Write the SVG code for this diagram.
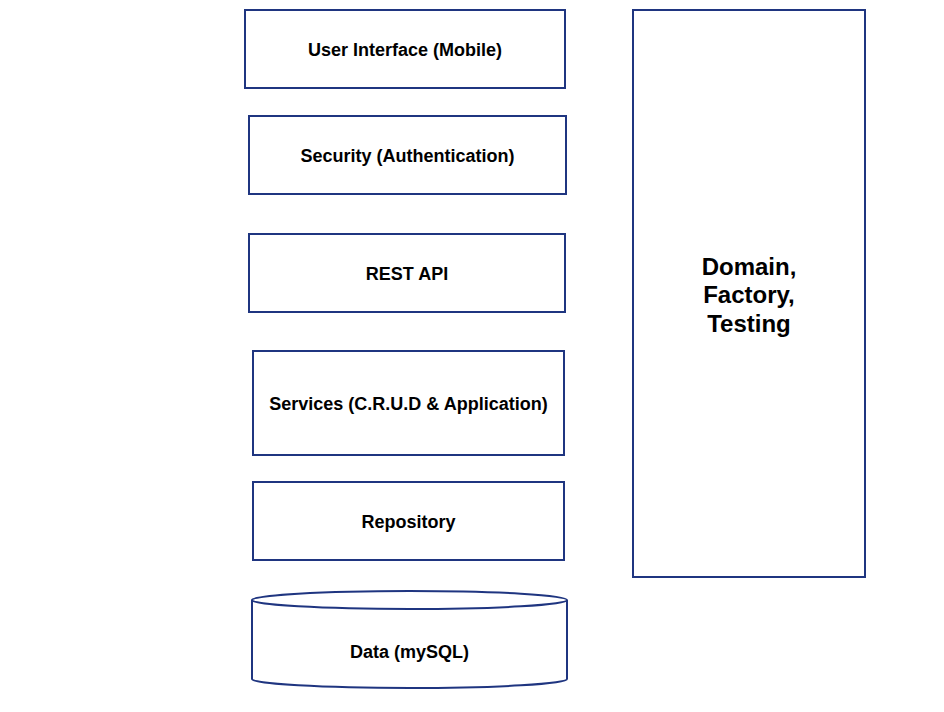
<svg xmlns="http://www.w3.org/2000/svg" width="944" height="712" viewBox="0 0 944 712">
<style>
.box{fill:#ffffff;stroke:#1f3580;stroke-width:2}
.t{font-family:"Liberation Sans",Arial,sans-serif;font-weight:bold;font-size:18px;fill:#000;text-anchor:middle}
.big{font-size:24px}
</style>
<rect width="944" height="712" fill="#ffffff"/>
<g id="ui"><rect class="box" x="245" y="10" width="320" height="78"/><text class="t" x="405" y="55.5">User Interface (Mobile)</text></g>
<g id="security"><rect class="box" x="249" y="116" width="317" height="78"/><text class="t" x="407.5" y="161.5">Security (Authentication)</text></g>
<g id="rest"><rect class="box" x="249" y="234" width="316" height="78"/><text class="t" x="407" y="279.5">REST API</text></g>
<g id="services"><rect class="box" x="253" y="351" width="311" height="104"/><text class="t" x="408.5" y="409.5">Services (C.R.U.D &amp; Application)</text></g>
<g id="repository"><rect class="box" x="253" y="482" width="311" height="78"/><text class="t" x="408.5" y="527.5">Repository</text></g>
<g id="data">
<path class="box" d="M252,600 L252,679 A157.5,9 0 0 0 567,679 L567,600"/>
<ellipse class="box" cx="409.5" cy="600" rx="157.5" ry="9"/>
<text class="t" x="409.5" y="657.5">Data (mySQL)</text>
</g>
<g id="domain"><rect class="box" x="633" y="10" width="232" height="567"/>
<text class="t big" x="749" y="274.5">Domain,</text>
<text class="t big" x="749" y="303">Factory,</text>
<text class="t big" x="749" y="331.5">Testing</text>
</g>
<g id="connectors"></g>
</svg>
